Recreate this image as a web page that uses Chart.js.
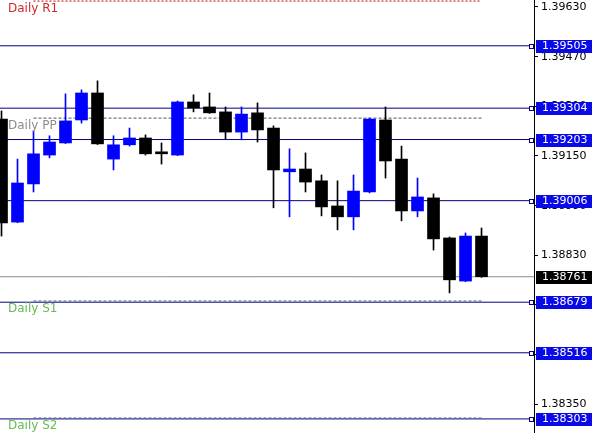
<!DOCTYPE html>
<html>
<head>
<meta charset="utf-8">
<script src="https://cdn.jsdelivr.net/npm/chart.js@4/dist/chart.umd.min.js"></script>
<style>
  html, body { margin: 0; padding: 0; background: #fff; }
  #wrap { width: 599px; height: 433px; position: relative; }
</style>
</head>
<body>
<div id="wrap"><canvas id="chart"></canvas></div>
<script>
// CANDLES (oldest first)
const opens  = [1.39269, 1.38937, 1.39060, 1.39153, 1.39192, 1.39266, 1.39353, 1.39140, 1.39186, 1.39208, 1.39160,
                1.39153, 1.39324, 1.39308, 1.39292, 1.39227, 1.39289, 1.39240, 1.39099, 1.39108, 1.39070, 1.38989,
                1.38954, 1.39034, 1.39266, 1.39140, 1.38973, 1.39015, 1.38886, 1.38747, 1.38892];
const highs  = [1.39295, 1.39140, 1.39231, 1.39215, 1.39350, 1.39363, 1.39392, 1.39215, 1.39240, 1.39218, 1.39192,
                1.39327, 1.39347, 1.39353, 1.39308, 1.39308, 1.39321, 1.39247, 1.39173, 1.39160, 1.39089, 1.39070,
                1.39089, 1.39272, 1.39308, 1.39182, 1.39079, 1.39028, 1.38889, 1.38902, 1.38918];
const lows   = [1.38892, 1.38935, 1.39034, 1.39144, 1.39190, 1.39256, 1.39187, 1.39105, 1.39182, 1.39153, 1.39124,
                1.39151, 1.39292, 1.39287, 1.39205, 1.39202, 1.39195, 1.38983, 1.38954, 1.39034, 1.38957, 1.38912,
                1.38912, 1.39031, 1.39079, 1.38941, 1.38954, 1.38847, 1.38709, 1.38745, 1.38759];
const closes = [1.38934, 1.39063, 1.39157, 1.39195, 1.39263, 1.39353, 1.39189, 1.39186, 1.39208, 1.39157, 1.39157,
                1.39324, 1.39305, 1.39289, 1.39227, 1.39285, 1.39234, 1.39105, 1.39108, 1.39066, 1.38986, 1.38954,
                1.39037, 1.39269, 1.39134, 1.38973, 1.39018, 1.38883, 1.38751, 1.38892, 1.38761];

// horizontal levels
const levels = [1.39505, 1.39304, 1.39203, 1.39006, 1.38679, 1.38516, 1.38303];
const bid = 1.38761;

// daily pivots
const pivotNames  = ["Daily R1", "Daily PP", "Daily S1", "Daily S2"];
const pivotValues = [1.39649, 1.39272, 1.38683, 1.38306];
const pivotStart = 2, pivotEnd = 30;

// price axis
const yTicks = [1.39630, 1.39470, 1.39310, 1.39150, 1.38990, 1.38830, 1.38670, 1.38510, 1.38350];
const yMin = 1.382576, yMax = 1.396525;
const xMin = -0.094, xMax = 33.28;

const BLUE = "#0000ff", BLACK = "#000000", NAVY = "#000080";
const FONT = "DejaVu Sans";

const candleColors = opens.map((o, i) => closes[i] > o ? BLUE : BLACK);
const pivotColors = ["#cc2a2a", "#8c8c8c", "#66bb55", "#66bb55"];
const pivotLineColors = ["#b80000", "#555555", "#5a6a8a", "#5a6a8a"];

const datasets = [];

// level lines (behind candles)
levels.forEach(v => {
  datasets.push({
    type: "line", order: 10,
    data: [{ x: xMin, y: v }, { x: xMax, y: v }],
    borderColor: NAVY, borderWidth: 1, pointRadius: 0
  });
});
datasets.push({
  type: "line", order: 10,
  data: [{ x: xMin, y: bid }, { x: xMax, y: bid }],
  borderColor: "#8c8c8c", borderWidth: 1, pointRadius: 0
});
pivotValues.forEach((v, i) => {
  datasets.push({
    type: "line", order: 9,
    data: [{ x: pivotStart, y: v }, { x: pivotEnd, y: v }],
    borderColor: pivotLineColors[i], borderWidth: 1, pointRadius: 0,
    borderDash: i === 0 ? [2, 2] : [3, 2]
  });
});

// wicks
datasets.push({
  type: "bar", order: 2, grouped: false,
  data: highs.map((h, i) => ({ x: i, y: [lows[i], h] })),
  backgroundColor: candleColors, barThickness: 1
});
// bodies
datasets.push({
  type: "bar", order: 1, grouped: false,
  data: opens.map((o, i) => ({ x: i, y: [o, closes[i]] })),
  backgroundColor: candleColors, barThickness: 12, minBarLength: 2
});

const overlay = {
  id: "overlay",
  afterDatasetsDraw(chart) {
    const ctx = chart.ctx, y = chart.scales.y, x = chart.scales.x;
    ctx.save();
    ctx.font = "12px '" + FONT + "'";
    ctx.textBaseline = "top";
    ctx.textAlign = "left";
    pivotValues.forEach((v, i) => {
      ctx.fillStyle = pivotColors[i];
      ctx.fillText(pivotNames[i], x.left + 8, y.getPixelForValue(v) + 2);
    });
    ctx.restore();
  },
  afterDraw(chart) {
    const ctx = chart.ctx, y = chart.scales.y;
    const ax = chart.chartArea.right;
    ctx.save();
    ctx.font = "11px '" + FONT + "'";
    ctx.textBaseline = "middle";
    ctx.textAlign = "left";
    const box = (v, fill) => {
      const py = Math.round(y.getPixelForValue(v));
      ctx.fillStyle = fill;
      ctx.fillRect(ax + 2, py - 6, 56, 13);
      ctx.fillStyle = "#fff";
      ctx.fillText(v.toFixed(5), ax + 8, py + 0.5);
    };
    levels.forEach(v => {
      const py = Math.round(y.getPixelForValue(v));
      ctx.fillStyle = "#fff";
      ctx.fillRect(ax - 5, py - 2, 4, 4);
      ctx.strokeStyle = NAVY;
      ctx.lineWidth = 1;
      ctx.strokeRect(ax - 4.5, py - 1.5, 4, 4);
      box(v, "#0a0ae6");
    });
    box(bid, "#000");
    ctx.restore();
  }
};

new Chart(document.getElementById("chart"), {
  data: { datasets },
  plugins: [overlay],
  options: {
    responsive: true,
    maintainAspectRatio: false,
    animation: false,
    layout: { padding: 0 },
    plugins: { legend: { display: false }, tooltip: { enabled: false } },
    scales: {
      x: { type: "linear", min: xMin, max: xMax, offset: false, display: false },
      y: {
        type: "linear", position: "right", min: yMin, max: yMax,
        afterBuildTicks: s => { s.ticks = yTicks.map(v => ({ value: v })); },
        afterFit: s => { s.width = 65; s.paddingTop = 0; s.paddingBottom = 0; },
        grid: { drawOnChartArea: false, drawTicks: true, tickLength: 4, color: "#000" },
        border: { display: true, color: "#000", width: 1 },
        ticks: {
          padding: 3, color: "#000",
          font: { family: FONT, size: 11 },
          callback: v => v.toFixed(5)
        }
      }
    }
  }
});
</script>
</body>
</html>
